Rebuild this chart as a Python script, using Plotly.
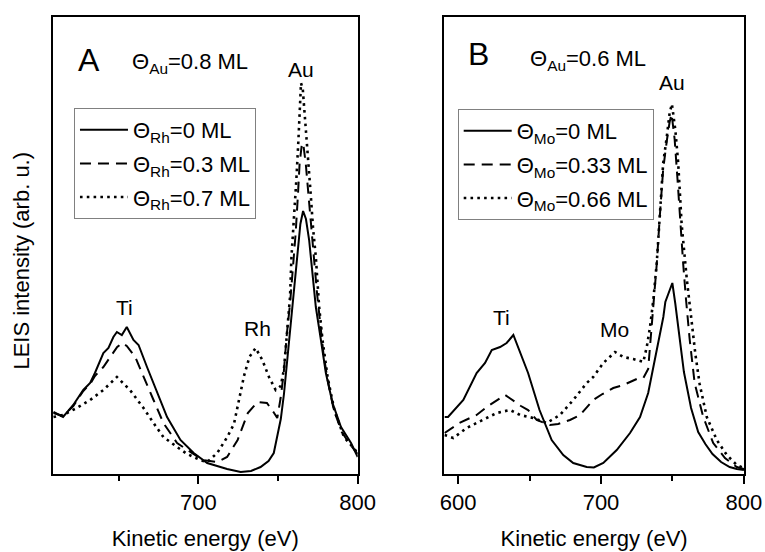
import plotly.graph_objects as go

FONT = "Liberation Sans, Arial, sans-serif"

# ---------------- Panel A (Au/Rh) ----------------
a_solid_E = [609, 615, 621.4, 627.7, 632, 635, 640.3, 643.5, 646.6, 648.8, 651.9, 655, 659.2, 662.4,
             667.7, 674, 680.3, 688.7, 697, 705.5, 712, 718, 726.5, 733, 739, 744, 747.3, 749.6,
             751.7, 753.7, 755.9, 758, 760, 762, 764, 765.7, 767.5, 769.5, 771.6, 773.7, 776.9,
             780, 784.2, 789.5, 795.8, 800]
a_solid_I = [0.62, 0.57, 0.69, 0.84, 0.91, 1.01, 1.21, 1.26, 1.37, 1.42, 1.39, 1.47, 1.34, 1.29,
             1.07, 0.81, 0.57, 0.34, 0.21, 0.11, 0.08, 0.05, 0.02, 0.03, 0.07, 0.13, 0.21, 0.40,
             0.55, 0.80, 1.17, 1.51, 1.84, 2.20, 2.50, 2.63, 2.55, 2.34, 2.01, 1.67, 1.34,
             1.01, 0.71, 0.47, 0.31, 0.17]

a_dash_E = [609, 615, 621.4, 627.7, 632, 635, 640.3, 645.6, 649, 652, 655, 660.3, 665.5, 671.8,
            678, 686.6, 693, 703, 712, 718, 724.6, 731, 737, 743, 747.5, 749.5, 751.5, 753.5,
            755.5, 757.5, 759, 761, 762.5, 763.5, 765, 766, 767.4, 769.3, 771, 772.7, 774.5,
            776.5, 778.5, 781, 785, 790, 795, 800]
a_dash_I = [0.61, 0.58, 0.68, 0.83, 0.90, 0.98, 1.07, 1.19, 1.27, 1.31, 1.28, 1.17, 0.97, 0.74,
            0.51, 0.31, 0.24, 0.14, 0.12, 0.17, 0.34, 0.61, 0.72, 0.71, 0.61, 0.56, 0.75, 1.00,
            1.40, 1.70, 2.00, 2.40, 2.80, 3.10, 3.31, 3.28, 3.10, 2.74, 2.40, 2.10, 1.80,
            1.50, 1.20, 0.95, 0.64, 0.42, 0.30, 0.20]

a_dot_E = [609, 615, 623.6, 632, 640.3, 648.8, 657, 665.5, 671.8, 678, 686.6, 692.9, 701, 705.5,
           711.8, 718.1, 722.3, 725, 728.6, 732, 735.9, 740.1, 744.3, 748.5, 751.7, 753.7, 755.9,
           757.5, 758.4, 760, 761.5, 762.8, 763.6, 764.4, 765.5, 766.5, 767.5, 769, 770.3, 772,
           773.7, 775.8, 777.9, 781.1, 785.3, 791.4, 800]
a_dot_I = [0.57, 0.59, 0.66, 0.74, 0.84, 0.97, 0.84, 0.66, 0.51, 0.37, 0.27, 0.20, 0.14, 0.12,
           0.21, 0.37, 0.50, 0.70, 0.98, 1.17, 1.26, 1.14, 0.97, 0.84, 0.88, 1.05, 1.44,
           1.77, 2.17, 2.55, 2.95, 3.35, 3.65, 3.91, 3.85, 3.65, 3.45, 3.14, 2.84, 2.45,
           2.17, 1.67, 1.34, 0.97, 0.64, 0.37, 0.21]

# ---------------- Panel B (Au/Mo) ----------------
b_solid_E = [590.6, 593, 603.7, 613, 618.9, 623.6, 629.4, 634, 638.7, 649, 657, 665.5, 673.6, 680.6,
             690, 695, 701.6, 711, 720.3, 727.3, 733, 736.6, 740, 743.6, 745, 747.5, 749.9, 752,
             754, 758, 763, 768, 773, 778, 784, 790, 795, 800]
b_solid_I = [0.57, 0.57, 0.74, 1.01, 1.11, 1.24, 1.27, 1.31, 1.39, 1.01, 0.64, 0.34, 0.19, 0.11,
             0.07, 0.065, 0.11, 0.24, 0.41, 0.57, 0.81, 1.07, 1.30, 1.57, 1.72, 1.82, 1.91, 1.70,
             1.47, 1.02, 0.66, 0.42, 0.30, 0.20, 0.12, 0.07, 0.05, 0.04]

b_dash_E = [590.6, 601, 608.4, 613, 620, 626, 632.9, 636, 639.9, 644, 649, 655, 664.3, 670, 678.3,
            685.3, 694.6, 701, 708.6, 715.6, 725, 729.6, 733, 735, 737, 739, 741, 743.5, 746, 748,
            749.4, 751.5, 753.5, 755.5, 757.5, 759.5, 762, 765.5, 771.5, 778.5, 786.7, 795, 800]
b_dash_I = [0.41, 0.51, 0.56, 0.59, 0.67, 0.73, 0.79, 0.76, 0.72, 0.68, 0.64, 0.54, 0.49, 0.50, 0.54,
            0.59, 0.74, 0.80, 0.86, 0.89, 0.95, 0.96, 1.05, 1.40, 1.80, 2.10, 2.55, 3.05, 3.33, 3.52,
            3.60, 3.35, 2.95, 2.50, 2.10, 1.74, 1.35, 0.91, 0.57, 0.31, 0.16, 0.07, 0.05]

b_dot_E = [590.6, 596.7, 606, 617.7, 627, 636.4, 643.4, 652.7, 662, 671.3, 680.6, 690, 694.6, 701.6,
           709.8, 715.6, 722.6, 729.6, 732, 734.3, 736.6, 739, 741, 743.5, 746, 748, 749.6, 752,
           754, 756.4, 760, 763, 766, 769, 774, 781, 788, 795, 800]
b_dot_I = [0.39, 0.36, 0.46, 0.54, 0.61, 0.64, 0.59, 0.56, 0.51, 0.59, 0.74, 0.91, 0.97, 1.11,
           1.22, 1.17, 1.15, 1.12, 1.27, 1.47, 1.74, 2.11, 2.61, 3.11, 3.37, 3.61, 3.70, 3.44,
           3.11, 2.50, 1.95, 1.55, 1.20, 0.90, 0.57, 0.34, 0.19, 0.09, 0.06]

a_names = ["Θ<sub>Rh</sub>=0 ML", "Θ<sub>Rh</sub>=0.3 ML", "Θ<sub>Rh</sub>=0.7 ML"]
b_names = ["Θ<sub>Mo</sub>=0 ML", "Θ<sub>Mo</sub>=0.33 ML", "Θ<sub>Mo</sub>=0.66 ML"]

a_peaks = ["Ti", "Rh", "Au"]
a_peak_E = [653.4, 736.9, 764.3]
a_peak_I = [1.67, 1.46, 4.05]
b_peaks = ["Ti", "Mo", "Au"]
b_peak_E = [630.1, 709.1, 749.7]
b_peak_I = [1.57, 1.45, 3.92]

x_ticks_a = [700, 800]
x_ticks_b = [600, 700, 800]
x_minor_a = [650, 750]
x_minor_b = [650, 750]

styles = [dict(color="black", width=2, dash="solid"),
          dict(color="black", width=2, dash="11px,7px"),
          dict(color="black", width=2.6, dash="2.6px,4.2px")]

fig = go.Figure()
for i, (E, I) in enumerate([(a_solid_E, a_solid_I), (a_dash_E, a_dash_I), (a_dot_E, a_dot_I)]):
    fig.add_trace(go.Scatter(x=E, y=I, mode="lines", line=styles[i], name=a_names[i],
                             xaxis="x", yaxis="y", legend="legend", legendgroup="a%d" % i))
for i, (E, I) in enumerate([(b_solid_E, b_solid_I), (b_dash_E, b_dash_I), (b_dot_E, b_dot_I)]):
    fig.add_trace(go.Scatter(x=E, y=I, mode="lines", line=styles[i], name=b_names[i],
                             xaxis="x2", yaxis="y2", legend="legend2", legendgroup="b%d" % i))

ydom = [0.1413, 0.9697]
xax = dict(showline=True, linewidth=2, linecolor="black", mirror=True, showgrid=False,
           zeroline=False, ticks="outside", ticklen=8, tickwidth=2, tickcolor="black",
           automargin=False,
           tickfont=dict(size=22, color="black", family=FONT), tickmode="array",
           title=dict(text="Kinetic energy (eV)", font=dict(size=22, color="black", family=FONT),
                      standoff=16))
yax = dict(showline=True, linewidth=2, linecolor="black", mirror=True, showgrid=False,
           zeroline=False, showticklabels=False, ticks="", range=[0, 4.573], domain=ydom,
           automargin=False)

leg = dict(xanchor="left", yanchor="top", bordercolor="#808080", borderwidth=1,
           bgcolor="rgba(255,255,255,0)", font=dict(size=22, color="black", family=FONT),
           traceorder="grouped", tracegroupgap=2, itemwidth=48)

fig.update_layout(
    width=765, height=552, margin=dict(l=0, r=0, t=0, b=0, autoexpand=False),
    paper_bgcolor="white", plot_bgcolor="white",
    font=dict(family=FONT, color="black"),
    xaxis=dict(xax, domain=[0.0689, 0.4676], range=[608.5, 800], tickvals=x_ticks_a,
               minor=dict(tickvals=x_minor_a, ticks="outside", ticklen=5, tickwidth=2,
                          tickcolor="black"), anchor="y"),
    xaxis2=dict(xax, domain=[0.5808, 0.9725], range=[590.4, 800], tickvals=x_ticks_b,
                minor=dict(tickvals=x_minor_b, ticks="outside", ticklen=5, tickwidth=2,
                           tickcolor="black"), anchor="y2"),
    yaxis=dict(yax, anchor="x"),
    yaxis2=dict(yax, anchor="x2"),
    legend=dict(leg, x=0.0967, y=0.8043),
    legend2=dict(leg, x=0.5983, y=0.8025),
)

ann = []
for t, e, v in zip(a_peaks, a_peak_E, a_peak_I):
    ann.append(dict(text=t, x=e, y=v, xref="x", yref="y", showarrow=False,
                    xanchor="center", yanchor="middle",
                    font=dict(size=21, color="black", family=FONT)))
for t, e, v in zip(b_peaks, b_peak_E, b_peak_I):
    ann.append(dict(text=t, x=e, y=v, xref="x2", yref="y2", showarrow=False,
                    xanchor="center", yanchor="middle",
                    font=dict(size=21, color="black", family=FONT)))
ann += [
    dict(text="A", x=0.1163, y=0.8913, xref="paper", yref="paper", showarrow=False,
         xanchor="center", yanchor="middle", font=dict(size=32, color="black", family=FONT)),
    dict(text="B", x=0.6261, y=0.9022, xref="paper", yref="paper", showarrow=False,
         xanchor="center", yanchor="middle", font=dict(size=32, color="black", family=FONT)),
    dict(text="Θ<sub>Au</sub>=0.8 ML", x=0.1699, y=0.885, xref="paper", yref="paper",
         xanchor="left", yanchor="middle", showarrow=False,
         font=dict(size=22, color="black", family=FONT)),
    dict(text="Θ<sub>Au</sub>=0.6 ML", x=0.6902, y=0.891, xref="paper", yref="paper",
         xanchor="left", yanchor="middle", showarrow=False,
         font=dict(size=22, color="black", family=FONT)),
    dict(text="LEIS intensity (arb. u.)", x=21.5 / 765, y=0.527, xref="paper", yref="paper",
         xanchor="center", yanchor="middle", textangle=-90, showarrow=False,
         font=dict(size=22, color="black", family=FONT)),
]
fig.update_layout(annotations=ann)

fig.write_html("out.html", config={"responsive": False, "displayModeBar": False},
               post_script="document.body.style.margin='0';document.body.style.overflow='hidden';")
